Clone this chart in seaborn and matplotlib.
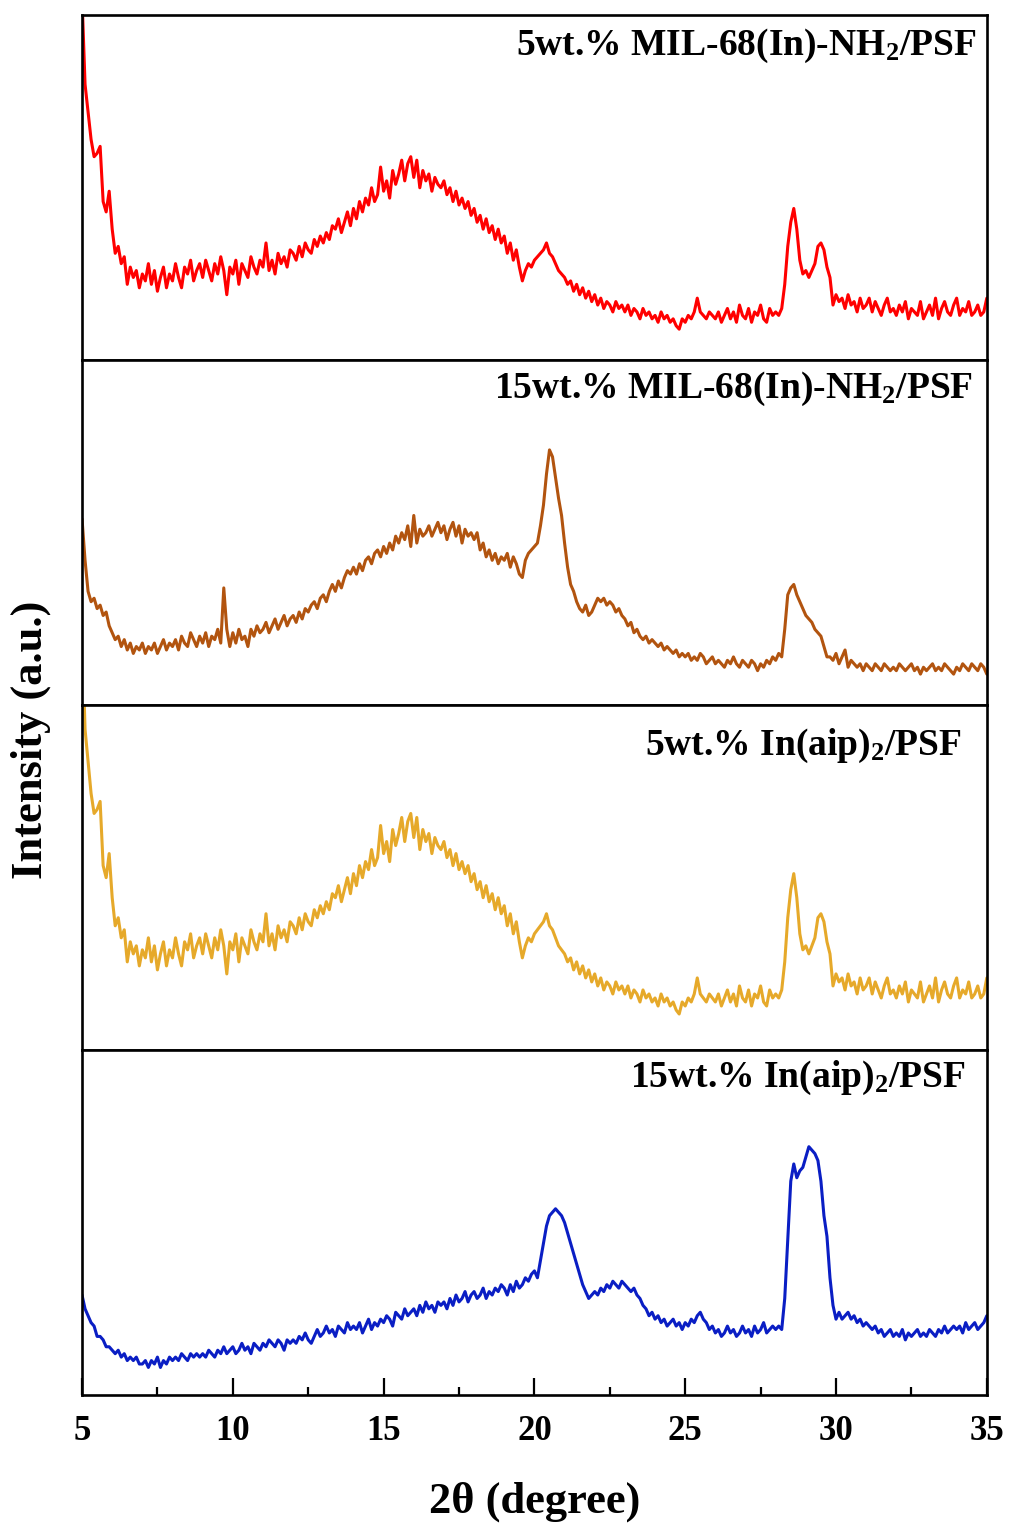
import numpy as np
import pandas as pd
import matplotlib
matplotlib.use("Agg")
import matplotlib.pyplot as plt
import seaborn as sns

# 2-theta grid (degrees), 0.1 degree step from 5 to 35
two_theta = [round(5 + 0.1 * i, 1) for i in range(301)]

# Intensities (arbitrary units)
mil68_5wt = [
    105, 80, 72, 64, 59, 60, 62, 46, 43, 49,
    38, 31, 33, 28, 30, 22, 27, 24, 26, 21,
    25, 23, 28, 22, 26, 20, 24, 27, 21, 25,
    23, 28, 24, 21, 27, 25, 29, 23, 26, 28,
    24, 29, 26, 23, 28, 25, 30, 26, 19, 27,
    25, 29, 22, 28, 26, 24, 30, 27, 25, 29,
    27, 34, 26, 29, 25, 31, 28, 30, 27, 32,
    31, 29, 33, 30, 34, 32, 31, 35, 33, 36,
    34, 37, 35, 39, 38, 41, 37, 40, 43, 39,
    44, 41, 46, 43, 47, 45, 50, 46, 48, 56,
    49, 52, 47, 55, 51, 54, 58, 52, 57, 59,
    53, 58, 50, 55, 52, 54, 49, 53, 51, 50,
    52, 48, 50, 46, 49, 45, 47, 44, 46, 42,
    44, 40, 42, 38, 41, 37, 39, 35, 38, 34,
    36, 31, 34, 29, 32, 27, 23, 26, 28, 27,
    29, 30, 31, 32, 34, 31, 30, 28, 26, 25,
    24, 22, 23, 20, 22, 19, 21, 18, 20, 17,
    19, 16, 18, 15, 17, 16, 14, 17, 15, 16,
    14, 16, 13, 15, 14, 12, 15, 13, 14, 12,
    13, 11, 14, 12, 13, 11, 12, 10, 9, 12,
    11, 13, 12, 14, 18, 14, 13, 12, 14, 13,
    12, 14, 11, 13, 15, 12, 14, 11, 16, 13,
    12, 15, 11, 14, 13, 16, 12, 11, 15, 13,
    14, 13, 15, 22, 33, 40, 44, 38, 29, 25,
    26, 24, 26, 28, 33, 34, 32, 27, 24, 16,
    19, 17, 18, 15, 19, 16, 17, 14, 18, 15,
    16, 18, 14, 17, 15, 13, 16, 18, 14, 15,
    13, 16, 14, 17, 12, 15, 14, 13, 17, 12,
    14, 16, 13, 18, 12, 15, 17, 14, 13, 16,
    18, 13, 15, 14, 17, 13, 14, 16, 13, 14,
    18,
]

mil68_15wt = [
    54, 42, 33, 30, 31, 28, 29, 26, 27, 23,
    21, 19, 20, 17, 19, 16, 18, 15, 17, 16,
    18, 15, 17, 16, 18, 15, 17, 19, 16, 18,
    17, 19, 16, 20, 18, 17, 21, 19, 17, 20,
    18, 21, 17, 20, 19, 22, 18, 34, 22, 17,
    21, 18, 22, 19, 20, 17, 22, 20, 23, 21,
    22, 24, 21, 23, 25, 22, 24, 26, 23, 25,
    26, 24, 27, 25, 28, 27, 29, 30, 28, 31,
    32, 30, 33, 35, 33, 36, 34, 37, 39, 38,
    40, 38, 41, 39, 42, 43, 41, 44, 45, 43,
    46, 44, 47, 45, 49, 47, 50, 48, 52, 46,
    55, 47, 51, 49, 50, 52, 49, 51, 53, 50,
    52, 48, 51, 53, 49, 52, 47, 51, 49, 50,
    48, 50, 45, 47, 43, 45, 42, 44, 41, 43,
    42, 44, 40, 43, 41, 38, 37, 42, 44, 45,
    46, 47, 52, 58, 67, 74, 72, 66, 60, 55,
    47, 40, 35, 33, 30, 28, 27, 29, 26, 27,
    29, 31, 30, 31, 29, 30, 29, 27, 28, 26,
    25, 23, 24, 21, 22, 20, 19, 20, 18, 19,
    18, 17, 18, 16, 17, 16, 15, 16, 14, 15,
    14, 15, 13, 14, 13, 15, 14, 12, 13, 14,
    12, 13, 12, 11, 13, 12, 14, 12, 11, 13,
    12, 11, 13, 12, 10, 12, 11, 13, 12, 14,
    13, 15, 14, 22, 32, 34, 35, 32, 30, 28,
    26, 25, 24, 22, 21, 20, 17, 14, 14, 13,
    15, 12, 14, 16, 11, 13, 12, 11, 12, 10,
    12, 11, 10, 12, 11, 10, 12, 11, 10, 11,
    10, 12, 11, 10, 11, 12, 10, 11, 9, 11,
    10, 11, 12, 10, 11, 10, 12, 11, 10, 9,
    11, 10, 12, 11, 10, 12, 11, 10, 12, 11,
    9,
]

inaip_5wt = [
    105, 80, 72, 64, 59, 60, 62, 46, 43, 49,
    38, 31, 33, 28, 30, 22, 27, 24, 26, 21,
    25, 23, 28, 22, 26, 20, 24, 27, 21, 25,
    23, 28, 24, 21, 27, 25, 29, 23, 26, 28,
    24, 29, 26, 23, 28, 25, 30, 26, 19, 27,
    25, 29, 22, 28, 26, 24, 30, 27, 25, 29,
    27, 34, 26, 29, 25, 31, 28, 30, 27, 32,
    31, 29, 33, 30, 34, 32, 31, 35, 33, 36,
    34, 37, 35, 39, 38, 41, 37, 40, 43, 39,
    44, 41, 46, 43, 47, 45, 50, 46, 48, 56,
    49, 52, 47, 55, 51, 54, 58, 52, 57, 59,
    53, 58, 50, 55, 52, 54, 49, 53, 51, 50,
    52, 48, 50, 46, 49, 45, 47, 44, 46, 42,
    44, 40, 42, 38, 41, 37, 39, 35, 38, 34,
    36, 31, 34, 29, 32, 27, 23, 26, 28, 27,
    29, 30, 31, 32, 34, 31, 30, 28, 26, 25,
    24, 22, 23, 20, 22, 19, 21, 18, 20, 17,
    19, 16, 18, 15, 17, 16, 14, 17, 15, 16,
    14, 16, 13, 15, 14, 12, 15, 13, 14, 12,
    13, 11, 14, 12, 13, 11, 12, 10, 9, 12,
    11, 13, 12, 14, 18, 14, 13, 12, 14, 13,
    12, 14, 11, 13, 15, 12, 14, 11, 16, 13,
    12, 15, 11, 14, 13, 16, 12, 11, 15, 13,
    14, 13, 15, 22, 33, 40, 44, 38, 29, 25,
    26, 24, 26, 28, 33, 34, 32, 27, 24, 16,
    19, 17, 18, 15, 19, 16, 17, 14, 18, 15,
    16, 18, 14, 17, 15, 13, 16, 18, 14, 15,
    13, 16, 14, 17, 12, 15, 14, 13, 17, 12,
    14, 16, 13, 18, 12, 15, 17, 14, 13, 16,
    18, 13, 15, 14, 17, 13, 14, 16, 13, 14,
    18,
]

inaip_15wt = [
    29, 25, 23, 21, 20, 17, 17, 16, 14, 14,
    13, 12, 13, 11, 12, 10, 11, 10, 11, 9,
    9, 10, 8, 10, 9, 11, 8, 10, 9, 11,
    10, 11, 10, 12, 11, 10, 12, 11, 12, 11,
    12, 11, 13, 12, 11, 13, 12, 14, 12, 13,
    14, 12, 13, 15, 13, 14, 12, 15, 14, 13,
    15, 14, 16, 15, 14, 16, 15, 13, 16, 15,
    16, 15, 17, 16, 18, 16, 15, 17, 19, 17,
    18, 20, 18, 19, 17, 20, 19, 18, 21, 19,
    20, 19, 21, 18, 20, 22, 19, 21, 20, 22,
    21, 23, 22, 20, 24, 23, 22, 25, 23, 24,
    25, 23, 26, 24, 27, 25, 26, 24, 27, 26,
    27, 25, 28, 26, 29, 27, 28, 30, 27, 29,
    30, 28, 29, 31, 28, 30, 29, 31, 30, 32,
    31, 29, 32, 30, 33, 31, 32, 34, 33, 35,
    36, 34, 39, 44, 49, 52, 53, 54, 53, 52,
    50, 47, 44, 41, 38, 35, 32, 30, 28, 29,
    30, 29, 31, 30, 32, 31, 33, 32, 31, 33,
    32, 31, 30, 31, 29, 28, 26, 25, 23, 24,
    22, 23, 21, 22, 20, 21, 22, 20, 21, 19,
    21, 20, 22, 21, 23, 24, 22, 21, 19, 20,
    18, 19, 17, 18, 20, 18, 19, 17, 18, 20,
    18, 19, 17, 20, 18, 19, 21, 18, 19, 20,
    19, 20, 19, 28, 45, 62, 67, 63, 65, 66,
    69, 72, 71, 70, 68, 62, 52, 46, 34, 26,
    22, 24, 22, 23, 24, 22, 23, 21, 22, 20,
    21, 20, 19, 20, 18, 19, 17, 18, 19, 17,
    18, 17, 19, 16, 18, 17, 18, 19, 17, 18,
    17, 19, 18, 17, 19, 18, 20, 18, 19, 20,
    19, 20, 18, 21, 19, 20, 21, 19, 20, 21,
    23,
]

labels = [
    r"5wt.% MIL-68(In)-NH$_\mathrm{2}$/PSF",
    r"15wt.% MIL-68(In)-NH$_\mathrm{2}$/PSF",
    r"5wt.% In(aip)$_\mathrm{2}$/PSF",
    r"15wt.% In(aip)$_\mathrm{2}$/PSF",
]
colors = ["#FF0000", "#B2540F", "#E6A92A", "#0A1EC4"]
series = [mil68_5wt, mil68_15wt, inaip_5wt, inaip_15wt]
ylims = [(0, 100), (0, 100), (0, 86), (0, 100)]
label_pos = [(0.989, 0.884), (0.985, 0.890), (0.972, 0.855), (0.976, 0.893)]

sns.set_style("ticks")
plt.rcParams["font.family"] = ["Liberation Serif", "DejaVu Serif"]
plt.rcParams["font.weight"] = "bold"
plt.rcParams["text.color"] = "black"
plt.rcParams["xtick.color"] = "black"
plt.rcParams["xtick.labelcolor"] = "black"
plt.rcParams["mathtext.fontset"] = "custom"
plt.rcParams["mathtext.rm"] = "Liberation Serif:bold"
plt.rcParams["mathtext.bf"] = "Liberation Serif:bold"
plt.rcParams["mathtext.it"] = "Liberation Serif:bold"

fig, axes = plt.subplots(4, 1, sharex=True, figsize=(10.09, 15.29), dpi=100)
fig.subplots_adjust(left=0.0813, right=0.978, top=0.990, bottom=0.0876, hspace=0)

for ax, ys, col, lab, yl, (lx, ly) in zip(axes, series, colors, labels, ylims, label_pos):
    df = pd.DataFrame({"two_theta": two_theta, "intensity": ys})
    sns.lineplot(data=df, x="two_theta", y="intensity", ax=ax, color=col,
                 linewidth=2.2, estimator=None, sort=False)
    ax.set_xlim(5, 35)
    ax.set_ylim(*yl)
    ax.set_yticks([])
    ax.set_xlabel("")
    ax.set_ylabel("")
    for sp in ax.spines.values():
        sp.set_visible(True)
        sp.set_linewidth(1.9)
        sp.set_color("black")
    ax.tick_params(axis="x", which="both", bottom=False, top=False, labelbottom=False)
    ax.text(lx, ly, lab, transform=ax.transAxes, ha="right", va="baseline",
            fontsize=27, fontweight="bold", color="black")

bx = axes[-1]
bx.set_xticks([5, 10, 15, 20, 25, 30, 35])
bx.set_xticks([7.5, 12.5, 17.5, 22.5, 27.5, 32.5], minor=True)
bx.tick_params(axis="x", which="major", direction="in", length=12, width=1.6,
               bottom=True, labelbottom=True, labelsize=25, pad=14,
               color="black", labelcolor="black")
bx.tick_params(axis="x", which="minor", direction="in", length=6, width=1.6,
               bottom=True, color="black")
for t in bx.get_xticklabels():
    t.set_fontweight("bold")

fig.text(0.530, 0.0177, r"2θ (degree)", ha="center", va="center",
         fontsize=32, fontweight="bold", color="black")
fig.text(0.030, 0.516, "Intensity (a.u.)", ha="center", va="center",
         rotation=90, fontsize=32, fontweight="bold", color="black")

fig.savefig("out.png", dpi=100)
